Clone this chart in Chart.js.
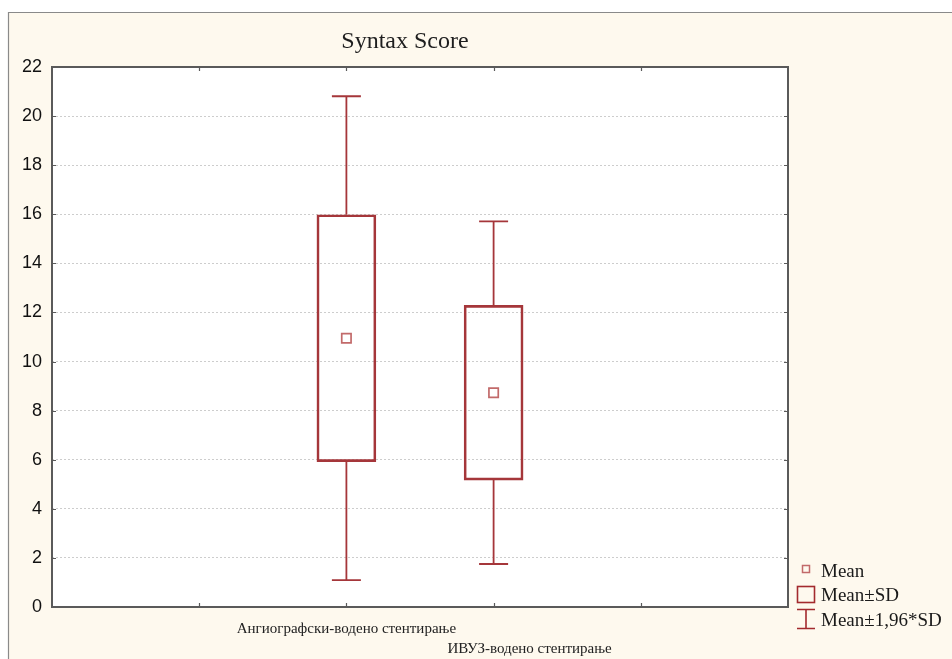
<!DOCTYPE html>
<html>
<head>
<meta charset="utf-8">
<script src="https://cdn.jsdelivr.net/npm/chart.js@4.4.1/dist/chart.umd.min.js"></script>
<style>
  html, body { margin: 0; padding: 0; background: #ffffff; }
  #wrap { position: relative; width: 952px; height: 659px; }
</style>
</head>
<body>
<div id="wrap"><canvas id="c" width="952" height="659"></canvas></div>
<script>
// Syntax Score by stenting strategy: mean, ±SD box, ±1.96·SD whiskers
const chartTitle = 'Syntax Score';
const groups = ['Ангиографски-водено стентирање', 'ИВУЗ-водено стентирање'];
const groupPositions = [2, 3];
const means = [10.95, 8.73];
const sds = [5.03, 3.56];
const whiskerFactor = 1.96;
const yMin = 0;
const yMax = 22;
const yStep = 2;
const xMin = 0;
const xMax = 5;
const legendLabels = ['Mean', 'Mean±SD', 'Mean±1,96*SD'];

const BOX_COLOR = '#a5363a';
const MEAN_COLOR = '#c26a6a';
const CREAM = '#fef9ee';
const AXIS_COLOR = '#5a5a5a';

const boxData = groupPositions.map((x, i) => ({ x: x, y: [means[i] - sds[i], means[i] + sds[i]] }));
const meanData = groupPositions.map((x, i) => ({ x: x, y: means[i] }));

const framePlugin = {
  id: 'frame',
  beforeDraw(chart) {
    const ctx = chart.ctx;
    const a = chart.chartArea;
    ctx.save();
    ctx.fillStyle = '#ffffff';
    ctx.fillRect(0, 0, chart.width, chart.height);
    ctx.fillStyle = CREAM;
    ctx.fillRect(8, 12, chart.width - 8, chart.height - 12);
    ctx.strokeStyle = '#8a8a8a';
    ctx.lineWidth = 1.2;
    ctx.beginPath();
    ctx.moveTo(8.5, chart.height);
    ctx.lineTo(8.5, 12.5);
    ctx.lineTo(chart.width, 12.5);
    ctx.stroke();
    ctx.fillStyle = '#ffffff';
    ctx.fillRect(a.left, a.top, a.right - a.left, a.bottom - a.top);
    ctx.restore();
  }
};

const overlayPlugin = {
  id: 'overlay',
  afterDatasetsDraw(chart) {
    const ctx = chart.ctx;
    const a = chart.chartArea;
    const xs = chart.scales.x;
    const ys = chart.scales.y;
    ctx.save();

    // whiskers at mean ± 1.96·SD
    ctx.strokeStyle = BOX_COLOR;
    ctx.lineWidth = 1.8;
    groupPositions.forEach((pos, i) => {
      const x = xs.getPixelForValue(pos);
      const capHalf = 14.5;
      const ends = [
        [means[i] + sds[i], means[i] + whiskerFactor * sds[i]],
        [means[i] - sds[i], means[i] - whiskerFactor * sds[i]]
      ];
      ends.forEach(([from, to]) => {
        const y0 = ys.getPixelForValue(from);
        const y1 = ys.getPixelForValue(to);
        ctx.beginPath();
        ctx.moveTo(x, y0);
        ctx.lineTo(x, y1);
        ctx.moveTo(x - capHalf, y1);
        ctx.lineTo(x + capHalf, y1);
        ctx.stroke();
      });
    });

    // plot frame with inward tick marks
    ctx.strokeStyle = AXIS_COLOR;
    ctx.lineWidth = 2;
    ctx.strokeRect(a.left, a.top, a.right - a.left, a.bottom - a.top);
    ctx.lineWidth = 1.2;
    ctx.beginPath();
    for (let v = xMin + 1; v < xMax; v++) {
      const x = Math.round(xs.getPixelForValue(v)) + 0.5;
      ctx.moveTo(x, a.bottom); ctx.lineTo(x, a.bottom - 4);
      ctx.moveTo(x, a.top); ctx.lineTo(x, a.top + 4);
    }
    for (let v = yMin + yStep; v < yMax; v += yStep) {
      const y = Math.round(ys.getPixelForValue(v)) + 0.5;
      ctx.moveTo(a.left, y); ctx.lineTo(a.left + 4, y);
      ctx.moveTo(a.right, y); ctx.lineTo(a.right - 4, y);
    }
    ctx.stroke();

    // title
    ctx.fillStyle = '#1e1e1e';
    ctx.font = '24px "Liberation Serif", "Times New Roman", serif';
    ctx.textAlign = 'center';
    ctx.textBaseline = 'alphabetic';
    ctx.fillText(chartTitle, 405, 48);

    // category labels, staggered on two rows
    ctx.font = '15px "Liberation Serif", "Times New Roman", serif';
    ctx.fillStyle = '#222222';
    ctx.fillText(groups[0], xs.getPixelForValue(groupPositions[0]), a.bottom + 26);
    ctx.fillText(groups[1], xs.getPixelForValue(groupPositions[1]) + 36, a.bottom + 46);

    // legend
    const lx = 806;
    ctx.textAlign = 'left';
    ctx.font = '19px "Liberation Serif", "Times New Roman", serif';
    ctx.fillStyle = '#1a1a1a';
    ctx.fillText(legendLabels[0], 821, 577);
    ctx.fillText(legendLabels[1], 821, 601);
    ctx.fillText(legendLabels[2], 821, 626);

    ctx.strokeStyle = MEAN_COLOR;
    ctx.lineWidth = 1.5;
    ctx.strokeRect(lx - 3.5, 565.5, 7, 7);

    ctx.strokeStyle = '#a32a2e';
    ctx.lineWidth = 1.6;
    ctx.strokeRect(797.5, 586.5, 17, 16);

    ctx.beginPath();
    ctx.moveTo(797, 609.5); ctx.lineTo(815, 609.5);
    ctx.moveTo(806, 609.5); ctx.lineTo(806, 628.5);
    ctx.moveTo(797, 628.5); ctx.lineTo(815, 628.5);
    ctx.stroke();

    ctx.restore();
  }
};

new Chart(document.getElementById('c'), {
  type: 'bar',
  data: {
    datasets: [
      {
        type: 'bar',
        label: legendLabels[1],
        data: boxData,
        backgroundColor: 'rgba(255,255,255,0)',
        borderColor: BOX_COLOR,
        borderWidth: 2,
        borderSkipped: false,
        barThickness: 59,
        order: 2
      },
      {
        type: 'scatter',
        label: legendLabels[0],
        data: meanData,
        pointStyle: 'rect',
        pointRadius: 6.6,
        pointHoverRadius: 6.6,
        backgroundColor: 'rgba(255,255,255,0)',
        borderColor: MEAN_COLOR,
        pointBorderWidth: 1.7,
        order: 1
      }
    ]
  },
  options: {
    responsive: false,
    animation: false,
    events: [],
    layout: { padding: { top: 67, bottom: 52, left: 0, right: 164 } },
    plugins: {
      legend: { display: false },
      title: { display: false },
      tooltip: { enabled: false }
    },
    scales: {
      x: {
        type: 'linear',
        display: false,
        min: xMin,
        max: xMax,
        offset: false,
        grid: { offset: false, display: false }
      },
      y: {
        type: 'linear',
        min: yMin,
        max: yMax,
        afterFit(scale) { scale.width = 52; },
        ticks: {
          stepSize: yStep,
          padding: 10,
          color: '#111111',
          font: { family: '"Liberation Sans", Arial, sans-serif', size: 18 }
        },
        grid: {
          drawTicks: false,
          lineWidth: 1,
          color: (c) => (c.tick && (c.tick.value === yMin || c.tick.value === yMax)) ? 'rgba(0,0,0,0)' : '#cdcdcd'
        },
        border: { display: false, dash: [2, 2] }
      }
    }
  },
  plugins: [framePlugin, overlayPlugin]
});
</script>
</body>
</html>
